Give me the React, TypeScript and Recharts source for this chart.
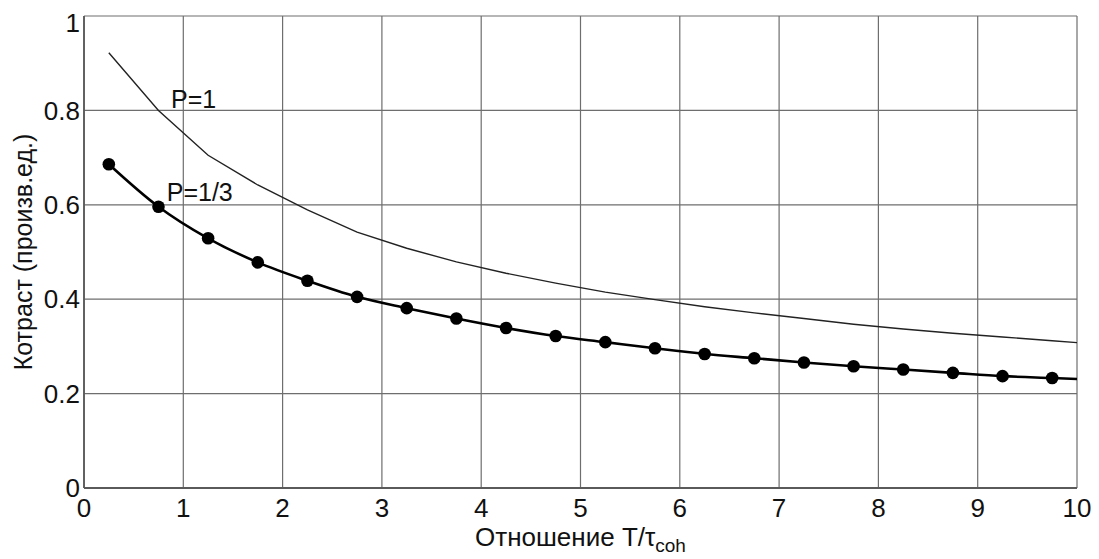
import React from 'react';
import { ComposedChart, Line, Scatter, XAxis, YAxis, CartesianGrid } from 'recharts';

const xTicks = [0, 1, 2, 3, 4, 5, 6, 7, 8, 9, 10];
const yTicks = [0, 0.2, 0.4, 0.6, 0.8, 1];

const xs = [0.25, 0.75, 1.25, 1.75, 2.25, 2.75, 3.25, 3.75, 4.25, 4.75, 5.25, 5.75, 6.25, 6.75, 7.25, 7.75, 8.25, 8.75, 9.25, 9.75, 10];
const p1Values = [0.922, 0.8, 0.705, 0.642, 0.589, 0.542, 0.508, 0.479, 0.455, 0.434, 0.415, 0.399, 0.384, 0.371, 0.359, 0.347, 0.337, 0.328, 0.32, 0.312, 0.308];
const p13Values = [0.686, 0.596, 0.529, 0.478, 0.439, 0.405, 0.381, 0.359, 0.339, 0.322, 0.309, 0.296, 0.284, 0.275, 0.266, 0.258, 0.251, 0.244, 0.237, 0.233, 0.231];
const dotXs = xs.slice(0, 20);

const annotationX = [0.876, 0.833];
const annotationY = [0.805, 0.607];
const annotationText = ['P=1', 'P=1/3'];

const FONT = '"Liberation Sans", Arial, sans-serif';
const TEXT = '#111';

const p1Data = xs.map((x, i) => ({ x, y: p1Values[i] }));
const p13Data = xs.map((x, i) => ({ x, y: p13Values[i] }));
const dotData = dotXs.map((x, i) => ({ x, y: p13Values[i] }));
const annData = annotationX.map((x, i) => ({ x, y: annotationY[i], text: annotationText[i] }));

const XLabel = (props: any) => {
  const vb = props.viewBox;
  return (
    <text x={vb.x + vb.width / 2} y={vb.y + 58} textAnchor="middle" fontFamily={FONT} fontSize={26} fill={TEXT}>
      Отношение T/τ
      <tspan fontSize={19} dy={6}>coh</tspan>
    </text>
  );
};

const YLabel = (props: any) => {
  const vb = props.viewBox;
  const cx = vb.x + 24;
  const cy = vb.y + vb.height / 2;
  return (
    <text x={cx} y={cy} transform={`rotate(-90 ${cx} ${cy})`} textAnchor="middle" fontFamily={FONT} fontSize={25} fill={TEXT}>
      Котраст (произв.ед.)
    </text>
  );
};

const AnnShape = (props: any) => (
  <text x={props.cx} y={props.cy} fontFamily={FONT} fontSize={25} fill={TEXT}>
    {props.payload.text}
  </text>
);

const yFmt = (v: number) => (v === 0 || v === 1 ? String(v) : v.toFixed(1));

export default function App() {
  return (
    <ComposedChart width={1091} height={551} margin={{ top: 8, right: 22, bottom: 0, left: 0 }} style={{ background: '#fff' }}>
      <CartesianGrid stroke="#6e6e6e" strokeWidth={1.2} />
      <XAxis
        type="number"
        dataKey="x"
        domain={[0, 10]}
        ticks={xTicks}
        height={71}
        tickLine={false}
        tickSize={0}
        tickMargin={11}
        axisLine={{ stroke: '#5a5a5a', strokeWidth: 1.8 }}
        tick={{ fontFamily: FONT, fontSize: 26, fill: TEXT }}
        allowDataOverflow
        label={<XLabel />}
      />
      <YAxis
        type="number"
        dataKey="y"
        domain={[0, 1]}
        ticks={yTicks}
        width={76}
        tickLine={false}
        tickSize={0}
        tickMargin={4}
        tickFormatter={yFmt}
        axisLine={{ stroke: '#5a5a5a', strokeWidth: 1.8 }}
        tick={{ fontFamily: FONT, fontSize: 26, fill: TEXT }}
        allowDataOverflow
        label={<YLabel />}
      />
      <Line data={p1Data} dataKey="y" type="linear" stroke="#222" strokeWidth={1.4} dot={false} activeDot={false} isAnimationActive={false} />
      <Line data={p13Data} dataKey="y" type="monotone" stroke="#000" strokeWidth={2.6} dot={false} activeDot={false} isAnimationActive={false} />
      <Scatter data={dotData} dataKey="y" fill="#000" shape={(p: any) => <circle cx={p.cx} cy={p.cy} r={6.3} fill="#000" />} isAnimationActive={false} />
      <Scatter data={annData} dataKey="y" shape={AnnShape} isAnimationActive={false} />
    </ComposedChart>
  );
}
